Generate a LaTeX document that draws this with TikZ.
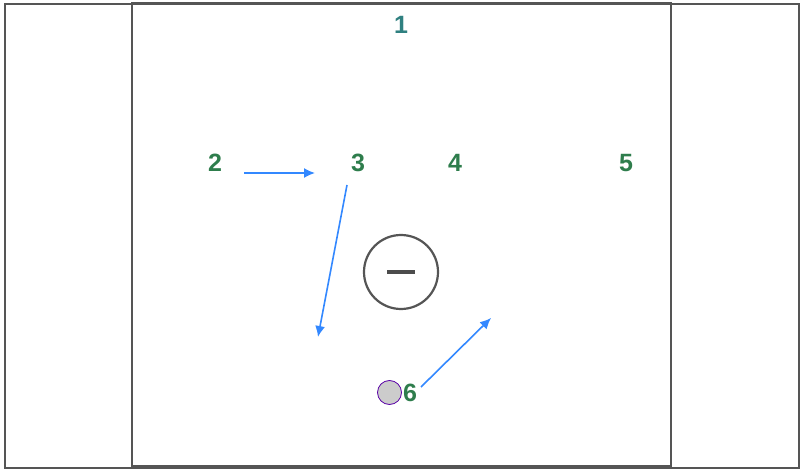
\documentclass[tikz,border=0pt]{standalone}
\usepackage{fontspec}
\setmainfont{Liberation Sans}
\usetikzlibrary{arrows.meta}
\definecolor{pgreen}{HTML}{2E7D4C}
\definecolor{pteal}{HTML}{2F8080}
\definecolor{parrow}{HTML}{3388FF}
\definecolor{pline}{HTML}{555555}
\begin{document}
\begin{tikzpicture}[x=1pt,y=-1pt,
  field/.style={draw=pline,line width=2.5pt},
  player/.style={text=pgreen,font=\bfseries\fontsize{25}{25}\selectfont,inner sep=0pt},
  move/.style={draw=parrow,line width=1.6pt,-{Latex[length=11pt,width=10pt]}}]
\useasboundingbox (0,0) rectangle (804,476);
\fill[white] (0,0) rectangle (804,476);
\draw[field] (5,4) rectangle (799,468);
\draw[field] (132,3) rectangle (671,466);
\node[player,text=pteal] (p1) at (401,25) {1};
\node[player] (p2) at (215,163) {2};
\node[player] (p3) at (358,163) {3};
\node[player] (p4) at (455,163) {4};
\node[player] (p5) at (626,163) {5};
\node[player] (p6) at (410,393) {6};
\node[circle,draw=pline,line width=2.2pt,minimum size=74pt,inner sep=0pt] (goal) at (401,272) {};
\draw[line width=3.2pt,draw=pline!90!black] ([xshift=-14pt]goal.center) -- ([xshift=14pt]goal.center);
\node[circle,draw=violet!70!blue,fill=gray!40,line width=0.8pt,minimum size=24pt,inner sep=0pt] (ball) at (389.5,392.5) {};
\coordinate (a1s) at (244,173);
\coordinate (a1e) at (315,173);
\coordinate (a2s) at (347,185);
\coordinate (a2e) at (318,337);
\coordinate (a3s) at (421,387);
\coordinate (a3e) at (491,318);
\draw[move] (a1s) -- (a1e);
\draw[move] (a2s) -- (a2e);
\draw[move] (a3s) -- (a3e);
\end{tikzpicture}
\end{document}
